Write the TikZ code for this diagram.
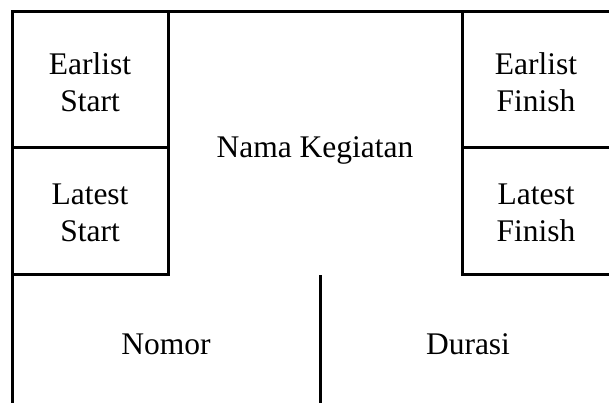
\documentclass[tikz,border=0pt]{standalone}
\usepackage{fontspec}
\setmainfont{Liberation Serif}
\begin{document}
\begin{tikzpicture}[x=1pt,y=-1pt,
  frame/.style={line width=3pt,line cap=rect},
  label/.style={font=\fontsize{31.5}{36.5}\selectfont,align=center,inner sep=0pt}]
\useasboundingbox (0,0) rectangle (609,403);
% coordinates
\coordinate (TL) at (12,12);
\coordinate (TR) at (611,12);
\coordinate (BL) at (12,405);
% frame
\draw[frame] (BL) -- (TL) -- (TR);
\draw[frame] (168,12) -- (168,274) -- (12,274);
\draw[frame] (12,148) -- (168,148);
\draw[frame] (462,12) -- (462,274) -- (611,274);
\draw[frame] (462,148) -- (611,148);
\draw[line width=3pt] (320,275) -- (320,405);
% labels
\node[label] (es) at (90,82) {Earlist\\Start};
\node[label] (ls) at (90,213) {Latest\\Start};
\node[label] (ef) at (536,82) {Earlist\\Finish};
\node[label] (lf) at (536,213) {Latest\\Finish};
\node[label] (nk) at (315,150) {Nama Kegiatan};
\node[label] (no) at (166,344) {Nomor};
\node[label] (du) at (468,344) {Durasi};
\end{tikzpicture}
\end{document}
